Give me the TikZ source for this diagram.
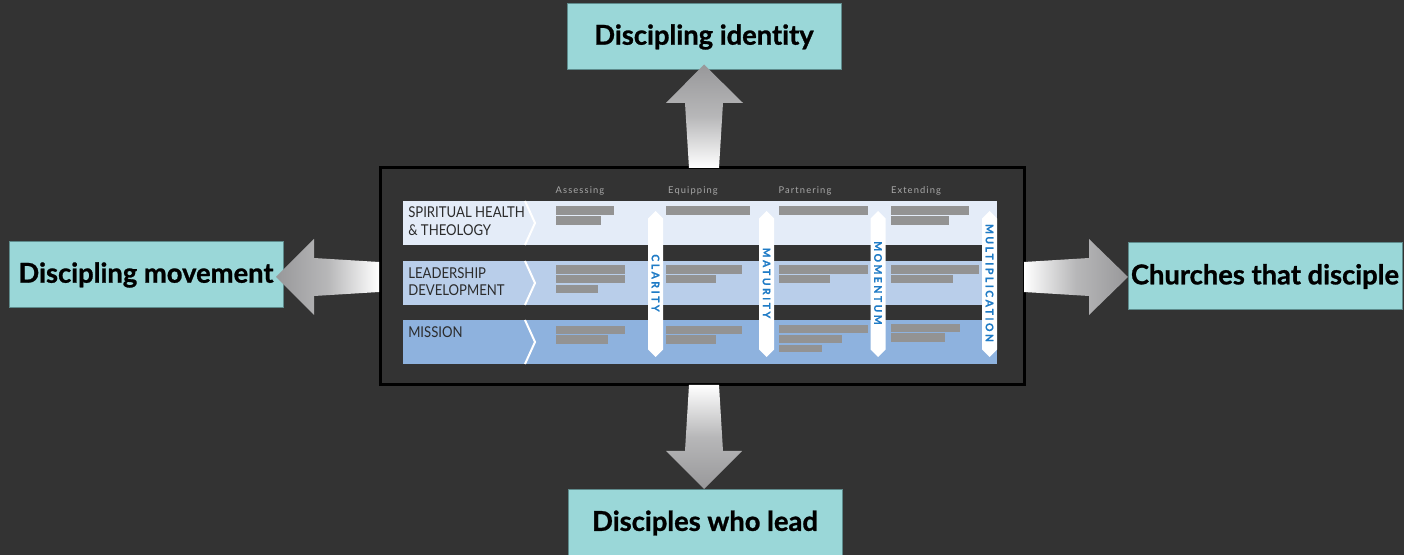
\documentclass[tikz,border=0pt]{standalone}
\usepackage{fontspec}
\setmainfont{Lato}[Ligatures={NoCommon}]
\newfontfamily\boxfont{Lato}[Ligatures={NoCommon}, BoldFeatures={FakeBold=1}]
\newfontfamily\hdrfont[LetterSpace=12]{Lato}
\newfontfamily\vfont[LetterSpace=24, BoldFeatures={FakeBold=0.6}]{Lato}
\usetikzlibrary{calc}
\definecolor{bg}{HTML}{333333}
\definecolor{teal}{HTML}{9AD7D8}
\definecolor{tealedge}{HTML}{5E8B8C}
\definecolor{rowa}{HTML}{E4ECF8}
\definecolor{rowb}{HTML}{B9CEEA}
\definecolor{rowc}{HTML}{8EB2DE}
\definecolor{barg}{HTML}{939393}
\definecolor{vblue}{HTML}{1F7BC6}
\definecolor{hdrgray}{HTML}{A8A8A8}
\definecolor{lbl}{HTML}{2B2B2B}
\definecolor{arrg}{HTML}{98989A}
\newcommand{\rowtext}[1]{\scalebox{0.88}[1]{#1}}
\tikzset{
  box/.style={draw=tealedge, line width=0.75pt, fill=teal, minimum width=205.5pt, minimum height=49.5pt, inner sep=0pt,
    font=\boxfont\fontsize{20.5}{24}\selectfont\bfseries, text=black},
  bar/.style={fill=barg, draw=none},
  hdr/.style={font=\hdrfont\fontsize{7}{8}\selectfont, text=hdrgray, anchor=base, inner sep=0pt},
  rowlbl/.style={font=\fontsize{11.2}{12}\selectfont, text=lbl, anchor=base west, inner sep=0pt},
  vtext/.style={font=\vfont\bfseries\fontsize{7.8}{8}\selectfont, text=vblue, rotate=-90, inner sep=0pt},
  chev/.style={draw=white, line width=1.5pt},
  varrow/.style={fill=white, draw=none}
}
\begin{document}
\begin{tikzpicture}[x=0.75pt,y=-0.75pt]
\fill[bg] (0,0) rectangle (1404,555);
\useasboundingbox (0,0) rectangle (1404,555);

% outer boxes
\node[box] (btop) at (704,37) {Discipling identity};
\node[box] (bleft) at (146,275) {Discipling movement};
\node[box, minimum height=50.25pt] (bright) at (1265,276.5) {Churches that disciple};
\node[box] (bbot) at (705,523) {Disciples who lead};

% central panel
\draw[black, line width=2.25pt, fill=bg] (380,168) rectangle (1024,385);

% big arrows
\shade[top color=arrg, bottom color=white, middle color=arrg!70!white]
  (btop.south) ++(0,-6) -- (743,103) -- (723,103) -- (719,168) -- (689,168) -- (685,103) -- (666,103) -- cycle;
\shade[bottom color=arrg, top color=white, middle color=arrg!70!white]
  (689,385) -- (719,385) -- (723,451) -- (742,451) -- (704,489) -- (666,451) -- (685,451) -- cycle;
\shade[left color=arrg, right color=white, middle color=arrg!70!white]
  (276,277) -- (314,239) -- (314,258) -- (379,262) -- (379,292) -- (314,296) -- (314,315) -- cycle;
\shade[right color=arrg, left color=white, middle color=arrg!70!white]
  (1024,262) -- (1089,258) -- (1089,239) -- (1128,277) -- (1089,315) -- (1089,296) -- (1024,292) -- cycle;

% rows
\fill[rowa] (403,201) rectangle (997,245);
\fill[rowb] (403,261) rectangle (997,305);
\fill[rowc] (403,320) rectangle (997,364);

% chevrons
\draw[chev] (525,201) -- (535,223) -- (525,245);
\draw[chev] (525,261) -- (535,283) -- (525,305);
\draw[chev] (525,320) -- (535,342) -- (525,364);

% row labels
\node[rowlbl] (l1a) at (408,218) {\rowtext{SPIRITUAL HEALTH}};
\node[rowlbl] (l1b) at (408,236) {\rowtext{\& THEOLOGY}};
\node[rowlbl] (l2a) at (408,279) {\rowtext{LEADERSHIP}};
\node[rowlbl] (l2b) at (408,296) {\rowtext{DEVELOPMENT}};
\node[rowlbl] (l3a) at (408,338) {\rowtext{MISSION}};

% column headers
\node[hdr] (h1) at (580,194) {Assessing};
\node[hdr] (h2) at (693,194) {Equipping};
\node[hdr] (h3) at (805,194) {Partnering};
\node[hdr] (h4) at (916,194) {Extending};

% bars column 1
\fill[bar] (556,206) rectangle (614,215);
\fill[bar] (556,216) rectangle (601,225);
\fill[bar] (556,265) rectangle (625,274);
\fill[bar] (556,275) rectangle (625,283);
\fill[bar] (556,285) rectangle (598,293);
\fill[bar] (556,326) rectangle (625,334);
\fill[bar] (556,335) rectangle (608,344);
% column 2
\fill[bar] (666,206) rectangle (750,215);
\fill[bar] (666,265) rectangle (742,274);
\fill[bar] (666,275) rectangle (716,283);
\fill[bar] (666,326) rectangle (742,334);
\fill[bar] (666,335) rectangle (716,344);
% column 3
\fill[bar] (779,206) rectangle (868,215);
\fill[bar] (779,265) rectangle (868,274);
\fill[bar] (779,275) rectangle (830,283);
\fill[bar] (779,325) rectangle (868,333);
\fill[bar] (779,335) rectangle (842,343);
\fill[bar] (779,345) rectangle (822,352);
% column 4
\fill[bar] (891,206) rectangle (969,215);
\fill[bar] (891,216) rectangle (949,225);
\fill[bar] (891,265) rectangle (979,274);
\fill[bar] (891,275) rectangle (953,283);
\fill[bar] (891,324) rectangle (960,332);
\fill[bar] (891,333) rectangle (945,342);

% vertical double arrows
\foreach \c/\w/\nm in {655.5/CLARITY/va, 766.5/MATURITY/vb, 878/MOMENTUM/vc, 989.5/MULTIPLICATION/vd}{
  \fill[varrow] (\c,211) -- (\c+7.5,218.5) -- (\c+7.5,349.5) -- (\c,357) -- (\c-7.5,349.5) -- (\c-7.5,218.5) -- cycle;
  \node[vtext] (\nm) at (\c,283) {\w};
}
\end{tikzpicture}
\end{document}
